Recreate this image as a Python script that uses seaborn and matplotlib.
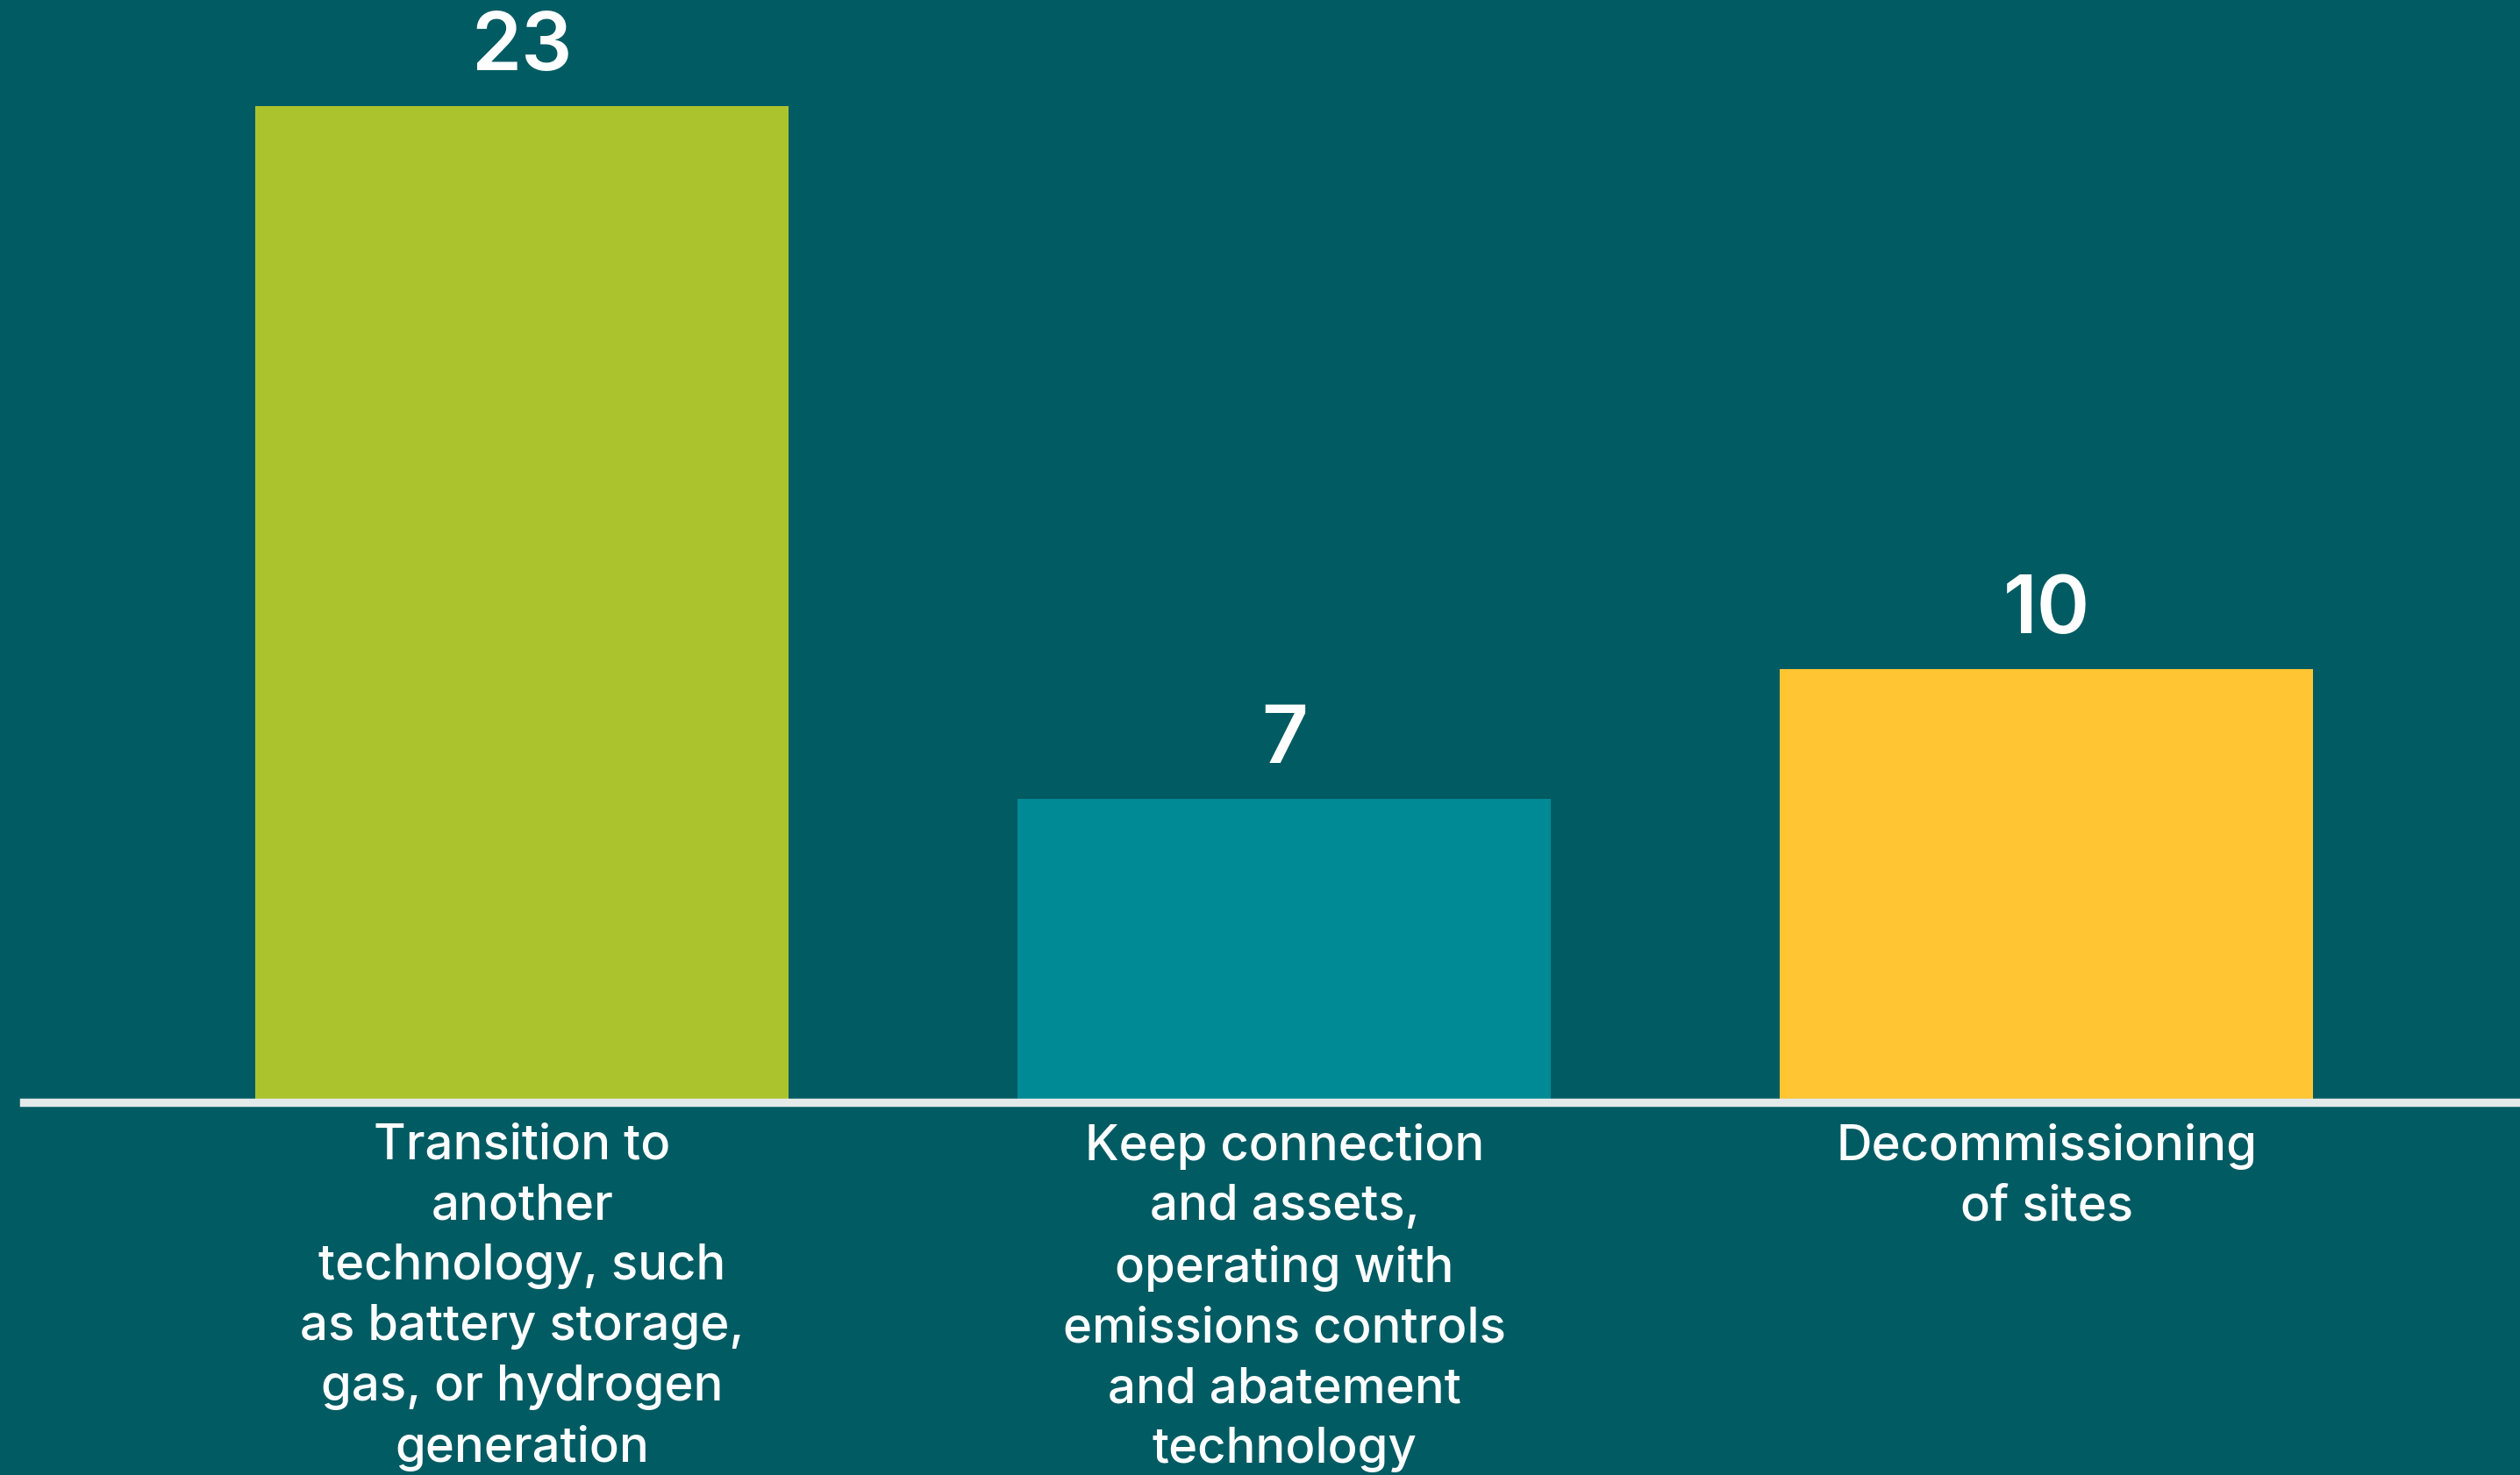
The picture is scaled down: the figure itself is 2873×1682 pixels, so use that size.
import matplotlib
matplotlib.use("Agg")
import matplotlib.pyplot as plt
import seaborn as sns
import pandas as pd

# Responses by option
categories = [
    "Transition to\nanother\ntechnology, such\nas battery storage,\ngas, or hydrogen\ngeneration",
    "Keep connection\nand assets,\noperating with\nemissions controls\nand abatement\ntechnology",
    "Decommissioning\nof sites",
]
values = [23, 7, 10]
bar_colors = ["#ABC32C", "#008A96", "#FFC533"]

BG = "#005B63"
LINE = "#E4E9E9"

sns.set_theme(style="white")
plt.rcParams["font.family"] = ["Inter", "DejaVu Sans"]

W, H = 2873, 1682
fig = plt.figure(figsize=(W / 100, H / 100), dpi=100, facecolor=BG)
base_y = 1257
ax = fig.add_axes([27 / W, (H - base_y) / H, (W - 27) / W, base_y / H])
ax.set_facecolor(BG)

df = pd.DataFrame({"category": categories, "value": values})
sns.barplot(data=df, x="category", y="value", hue="category",
            palette=bar_colors, width=0.70, saturation=1, legend=False,
            linewidth=0, edgecolor="none", ax=ax)

ax.set_xlim(-0.654, 2.621)
ax.set_ylim(0, 25.45)

for cont in ax.containers:
    ax.bar_label(cont, labels=[f"{v:g}" for v in cont.datavalues], padding=16,
                 color="white", fontsize=66, fontweight="semibold")

for side in ["top", "left", "right"]:
    ax.spines[side].set_visible(False)
ax.spines["bottom"].set_color(LINE)
ax.spines["bottom"].set_linewidth(6.8)
ax.spines["bottom"].set_zorder(5)

ax.set_yticks([])
ax.set_xlabel("")
ax.set_ylabel("")
ax.tick_params(axis="x", length=0, pad=17)
for lbl in ax.get_xticklabels():
    lbl.set_color("white")
    lbl.set_fontsize(40.5)
    lbl.set_fontweight("medium")
    lbl.set_linespacing(1.41)
    lbl.set_ha("center")

fig.savefig("out.png", dpi=100, facecolor=BG)
